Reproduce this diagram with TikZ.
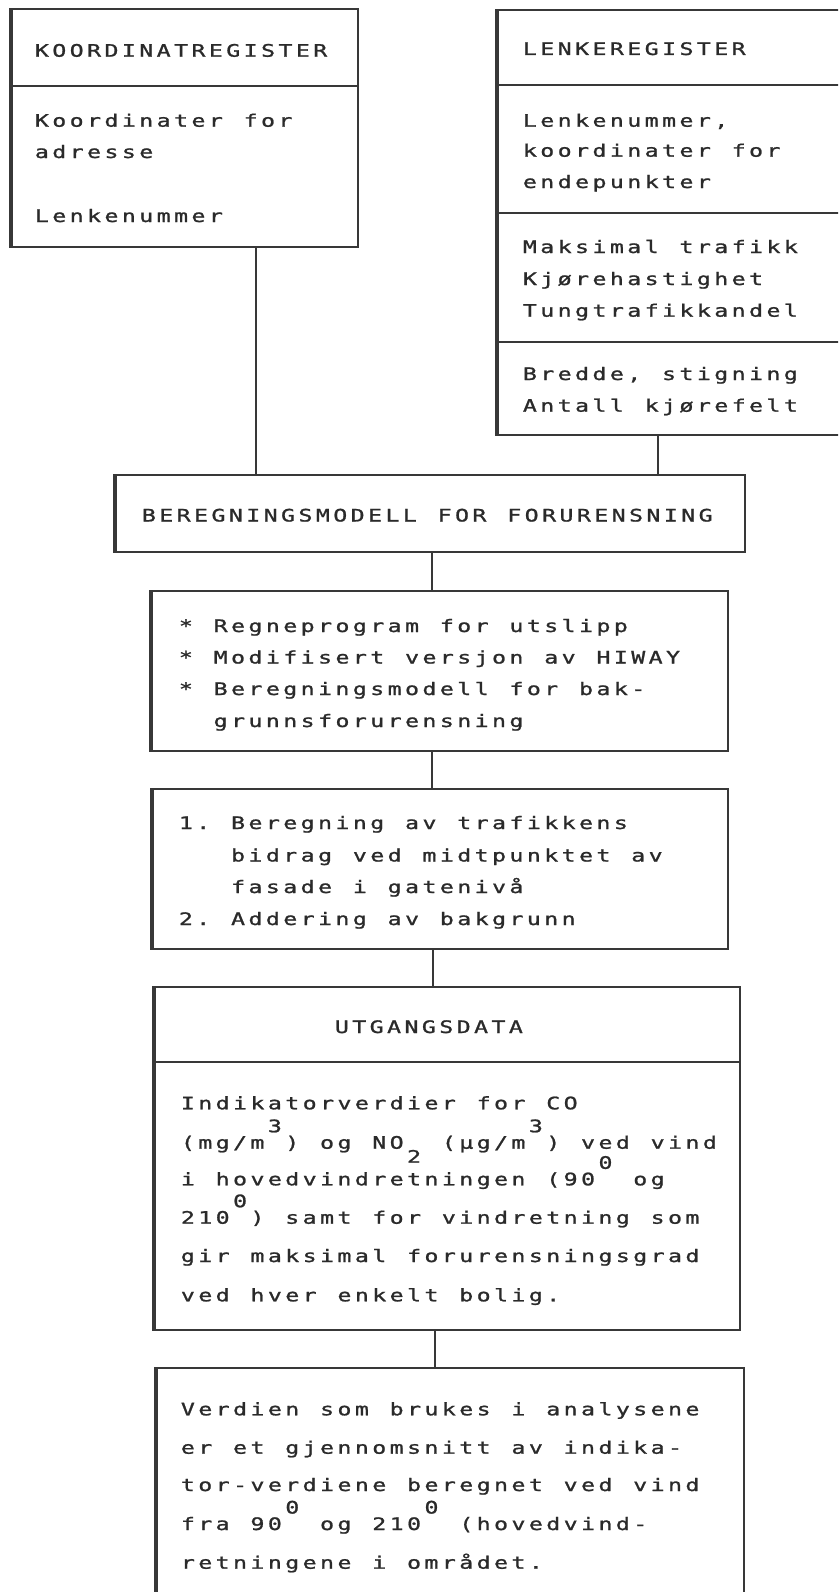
\documentclass[tikz,border=0pt]{standalone}
\usepackage{fontspec}
\newfontfamily\twf{DejaVu Sans Mono}[FakeStretch=1.35,FakeBold=1.2]
\definecolor{inkc}{HTML}{2A2A2A}
\definecolor{linec}{HTML}{383838}
\newlength\pitch \setlength\pitch{17.4pt}
\makeatletter
\def\tw#1{\tw@a#1\relax}
\def\tw@a#1{\ifx\relax#1\else\makebox[\pitch][c]{#1}\expandafter\tw@a\fi}
\makeatother
\newcommand\uTh{\raisebox{16.5pt}{3}}
\newcommand\uZe{\raisebox{16.5pt}{0}}
\newcommand\dTw{\raisebox{-14pt}{2}}
\tikzset{
  boxn/.style={draw=linec, line width=1.8pt, rectangle, inner sep=0pt},
  thickl/.style={draw=linec, line width=3.6pt},
  divl/.style={draw=linec, line width=1.8pt},
  conn/.style={draw=linec, line width=1.8pt},
  txt/.style={inner sep=0pt, anchor=base west, text=inkc,
    font=\twf\fontsize{17.2pt}{20pt}\selectfont}
}
\begin{document}
\begin{tikzpicture}[x=1pt,y=-1pt]
\useasboundingbox (0,0) rectangle (838,1592);
\fill[white] (0,0) rectangle (838,1592);
\clip (0,0) rectangle (838,1592);

% boxes
\node[boxn, minimum width=346pt, minimum height=238pt] (b1) at (185,128) {};
\node[boxn, minimum width=347pt, minimum height=425pt] (b2) at (671.5,222.5) {};
\node[boxn, minimum width=629pt, minimum height=77pt] (b3) at (430.5,513.5) {};
\node[boxn, minimum width=576pt, minimum height=160pt] (b4) at (440,671) {};
\node[boxn, minimum width=575pt, minimum height=160pt] (b5) at (440.5,869) {};
\node[boxn, minimum width=585pt, minimum height=343pt] (b6) at (447.5,1158.5) {};
\node[boxn, minimum width=587pt, minimum height=242pt] (b7) at (450.5,1489) {};

\foreach \b in {b1,b2,b3,b4,b5,b6,b7}
  \draw[thickl] (\b.north west) -- (\b.south west);

% dividers
\coordinate (d1) at (0,86);
\coordinate (d2) at (0,85);
\coordinate (d3) at (0,213);
\coordinate (d4) at (0,342);
\coordinate (d5) at (0,1062);
\draw[divl] (b1.west |- d1) -- (b1.east |- d1);
\draw[divl] (b2.west |- d2) -- (b2.east |- d2);
\draw[divl] (b2.west |- d3) -- (b2.east |- d3);
\draw[divl] (b2.west |- d4) -- (b2.east |- d4);
\draw[divl] (b6.west |- d5) -- (b6.east |- d5);

% connectors
\coordinate (k1) at (256,0);
\coordinate (k2) at (658,0);
\coordinate (k3) at (432,0);
\coordinate (k4) at (433,0);
\coordinate (k5) at (435,0);
\draw[conn] (b1.south -| k1) -- (b3.north -| k1);
\draw[conn] (b2.south -| k2) -- (b3.north -| k2);
\draw[conn] (b3.south -| k3) -- (b4.north -| k3);
\draw[conn] (b4.south -| k3) -- (b5.north -| k3);
\draw[conn] (b5.south -| k4) -- (b6.north -| k4);
\draw[conn] (b6.south -| k5) -- (b7.north -| k5);

% box 1 text
\node[txt] (t1a) at (33,56.7) {\tw{KOORDINATREGISTER}};
\node[txt] (t1b) at (33,126.7) {\tw{Koordinater~for}};
\node[txt] (t1c) at (33,158) {\tw{adresse}};
\node[txt] (t1d) at (33,222) {\tw{Lenkenummer}};

% box 2 text
\node[txt] (t2a) at (521,55) {\tw{LENKEREGISTER}};
\node[txt] (t2b) at (521,126.7) {\tw{Lenkenummer,}};
\node[txt] (t2c) at (521,156.7) {\tw{koordinater~for}};
\node[txt] (t2d) at (521,188) {\tw{endepunkter}};
\node[txt] (t2e) at (521,253) {\tw{Maksimal~trafikk}};
\node[txt] (t2f) at (521,285) {\tw{Kjørehastighet}};
\node[txt] (t2g) at (521,316.7) {\tw{Tungtrafikkandel}};
\node[txt] (t2h) at (521,380) {\tw{Bredde,~stigning}};
\node[txt] (t2i) at (521,411.7) {\tw{Antall~kjørefelt}};

% box 3
\node[txt] (t3a) at (140,521.5) {\tw{BEREGNINGSMODELL~FOR~FORURENSNING}};

% box 4
\node[txt] (t4a) at (177,632) {\tw{*~Regneprogram~for~utslipp}};
\node[txt] (t4b) at (177,663.5) {\tw{*~Modifisert~versjon~av~HIWAY}};
\node[txt] (t4c) at (177,695) {\tw{*~Beregningsmodell~for~bak-}};
\node[txt] (t4d) at (177,727) {\tw{~~grunnsforurensning}};

% box 5
\node[txt] (t5a) at (177,829) {\tw{1.~Beregning~av~trafikkens}};
\node[txt] (t5b) at (177,861.5) {\tw{~~~bidrag~ved~midtpunktet~av}};
\node[txt] (t5c) at (177,893) {\tw{~~~fasade~i~gatenivå}};
\node[txt] (t5d) at (177,925) {\tw{2.~Addering~av~bakgrunn}};

% box 6
\node[txt] (t6a) at (333,1033) {\tw{UTGANGSDATA}};
\node[txt] (t6b) at (179,1109.3) {\tw{Indikatorverdier~for~CO}};
\node[txt] (t6c) at (179,1148.7) {\tw{(mg/m\uTh)~og~NO\dTw~(µg/m\uTh)~ved~vind}};
\node[txt] (t6d) at (179,1185.3) {\tw{i~hovedvindretningen~(90\uZe~og}};
\node[txt] (t6e) at (179,1223.7) {\tw{210\uZe)~samt~for~vindretning~som}};
\node[txt] (t6f) at (179,1262) {\tw{gir~maksimal~forurensningsgrad}};
\node[txt] (t6g) at (179,1301.3) {\tw{ved~hver~enkelt~bolig.}};

% box 7
\node[txt] (t7a) at (179,1415.3) {\tw{Verdien~som~brukes~i~analysene}};
\node[txt] (t7b) at (179,1453.7) {\tw{er~et~gjennomsnitt~av~indika-}};
\node[txt] (t7c) at (179,1491) {\tw{tor-verdiene~beregnet~ved~vind}};
\node[txt] (t7d) at (179,1530) {\tw{fra~90\uZe~og~210\uZe~(hovedvind-}};
\node[txt] (t7e) at (179,1568.7) {\tw{retningene~i~området.}};
\end{tikzpicture}
\end{document}
